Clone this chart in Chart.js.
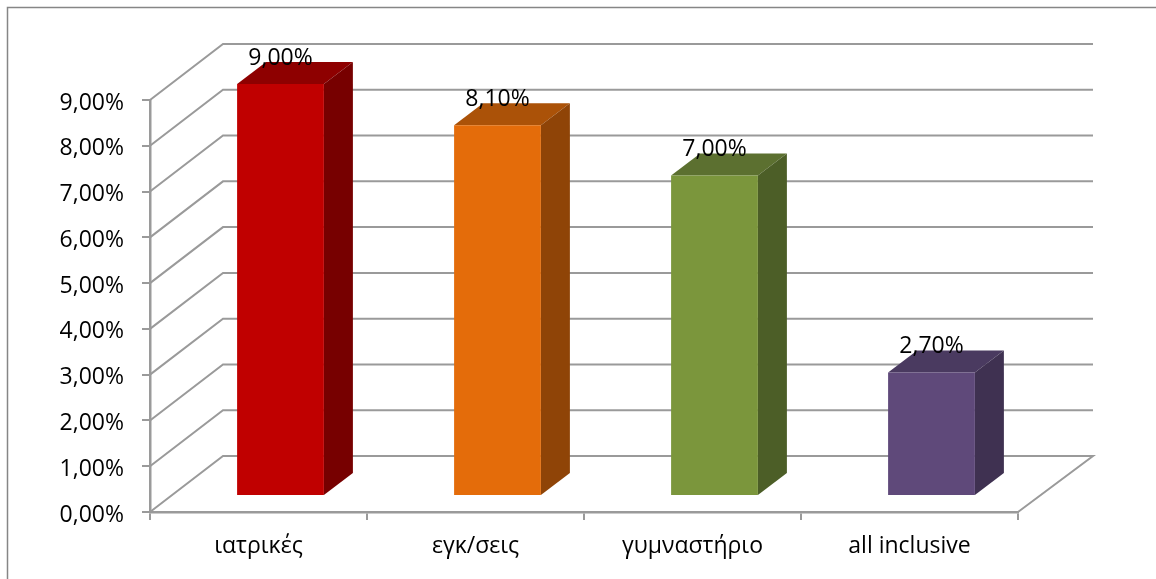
<!DOCTYPE html>
<html>
<head>
<meta charset="utf-8">
<style>
  html, body { margin: 0; padding: 0; background: #fff; overflow: hidden; }
  #wrap { width: 1156px; height: 579px; }
</style>
<script src="https://cdn.jsdelivr.net/npm/chart.js@4"></script>
</head>
<body>
<div id="wrap"><canvas id="c" width="1156" height="579"></canvas></div>
<script>
const categories = ['ιατρικές', 'εγκ/σεις', 'γυμναστήριο', 'all inclusive'];
const values = [9.0, 8.1, 7.0, 2.7];

const frontColors = ['#C00000', '#E46C0A', '#7B963C', '#5F497A'];
const topColors = ['#8E0000', '#AB5208', '#5C7030', '#4A3A60'];
const sideColors = ['#770000', '#8F4407', '#4C5E27', '#3F3151'];

const FONT = '"Open Sans", "Noto Sans", sans-serif';
const GRID = '#9A9A9A';
const percent = v => v.toFixed(2).replace('.', ',') + '%';

// Depth of the back wall and of the columns, and where columns stand on the floor
const wall = { dx: 73, dy: -56, overrun: 2 };
const column = { dx: 29, dy: -22, shiftX: 22, shiftY: -16 };

function poly(ctx, pts, fill) {
  ctx.beginPath();
  pts.forEach((p, i) => (i ? ctx.lineTo(p[0], p[1]) : ctx.moveTo(p[0], p[1])));
  ctx.closePath();
  ctx.fillStyle = fill;
  ctx.fill();
}

const box3d = {
  id: 'box3d',
  // Outer frame and the receding walls, built from the scale ticks
  beforeDatasetsDraw(chart) {
    const { ctx, scales: { y }, chartArea: a } = chart;
    ctx.save();
    ctx.strokeStyle = '#868686';
    ctx.lineWidth = 1.5;
    ctx.beginPath();
    ctx.moveTo(7.5, chart.height);
    ctx.lineTo(7.5, 7.5);
    ctx.lineTo(chart.width, 7.5);
    ctx.stroke();

    ctx.strokeStyle = GRID;
    ctx.lineWidth = 2;
    y.ticks.forEach(t => {
      const py = y.getPixelForValue(t.value);
      ctx.beginPath();
      ctx.moveTo(a.left, py);
      ctx.lineTo(a.left + wall.dx, py + wall.dy);
      ctx.lineTo(a.right + wall.dx + wall.overrun, py + wall.dy);
      if (t.value === 0) ctx.lineTo(a.right, py);
      ctx.stroke();
    });

    // Percentage labels of the value axis, set slightly under each tick
    ctx.fillStyle = '#000';
    ctx.font = '23px ' + FONT;
    ctx.textAlign = 'right';
    ctx.textBaseline = 'middle';
    y.ticks.forEach(t => {
      ctx.fillText(percent(t.value), a.left - 26, y.getPixelForValue(t.value) + 3);
    });
    ctx.restore();
  },
  // Columns stand a little inside the floor: shift the library's bars and add their faces
  beforeDatasetDraw(chart) {
    const { ctx } = chart;
    ctx.save();
    ctx.translate(column.shiftX, column.shiftY);
    chart.getDatasetMeta(0).data.forEach((bar, i) => {
      const { x, y, base, width } = bar.getProps(['x', 'y', 'base', 'width'], true);
      const l = x - width / 2, r = x + width / 2;
      poly(ctx, [[l, y], [r, y], [r + column.dx, y + column.dy], [l + column.dx, y + column.dy]], topColors[i]);
      poly(ctx, [[r, y], [r + column.dx, y + column.dy], [r + column.dx, base + column.dy], [r, base]], sideColors[i]);
    });
  },
  afterDatasetDraw(chart) {
    chart.ctx.restore();
  },
  // Value labels sit over the top faces
  afterDatasetsDraw(chart) {
    const { ctx } = chart;
    ctx.save();
    ctx.fillStyle = '#000';
    ctx.font = '23px ' + FONT;
    ctx.textAlign = 'center';
    ctx.textBaseline = 'middle';
    chart.getDatasetMeta(0).data.forEach((bar, i) => {
      ctx.fillText(percent(values[i]), bar.x + column.shiftX, bar.y + column.shiftY - 26);
    });
    ctx.restore();
  }
};

new Chart(document.getElementById('c'), {
  type: 'bar',
  data: {
    labels: categories,
    datasets: [{
      data: values,
      backgroundColor: frontColors,
      borderWidth: 0,
      barPercentage: 0.4,
      categoryPercentage: 1
    }]
  },
  options: {
    responsive: false,
    animation: false,
    devicePixelRatio: 1,
    layout: { padding: { left: 0, right: 138, top: 100, bottom: 0 } },
    plugins: { legend: { display: false }, tooltip: { enabled: false } },
    scales: {
      x: {
        afterFit: s => { s.height = 67; },
        border: { color: GRID, width: 2.5 },
        grid: { drawOnChartArea: false, color: GRID, lineWidth: 2, tickLength: 8, offset: true },
        ticks: { color: '#000', padding: 13, maxRotation: 0, font: { family: FONT, size: 23 } }
      },
      y: {
        min: 0,
        max: 9,
        afterFit: s => { s.width = 150; },
        border: { color: GRID, width: 2.5 },
        grid: { drawOnChartArea: false, color: GRID, lineWidth: 2, tickLength: 8 },
        ticks: { stepSize: 1, display: false }
      }
    }
  },
  plugins: [box3d]
});
</script>
</body>
</html>
